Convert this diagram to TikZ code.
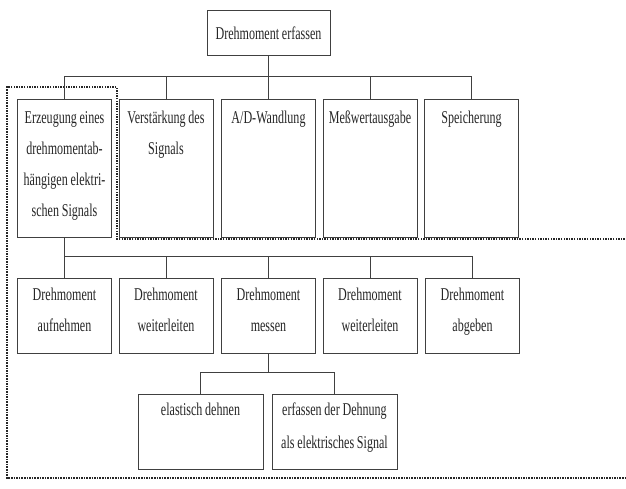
\documentclass[tikz,border=0pt]{standalone}
\usepackage{fontspec}
\setmainfont{Liberation Serif}[FakeStretch=0.67, WordSpace=0.9]
\begin{document}
\begin{tikzpicture}[x=1pt, y=-1pt,
    box/.style={draw=black!75, line width=1pt, text=black!85, inner xsep=0pt, inner ysep=0pt, align=flush center, font=\fontsize{18}{31}\selectfont},
    tallbox/.style={box, anchor=north, text width=94pt, text height=24pt, text depth=114pt},
    smallbox/.style={box, anchor=north, text width=94pt, text height=22pt, text depth=53pt},
    widebox/.style={box, anchor=north, text width=125pt, text height=21pt, text depth=54pt, font=\fontsize{18}{33}\selectfont},
    link/.style={draw=black!75, line width=1pt},
    dotframe/.style={draw=black!85, line width=2.6pt, dash pattern=on 1.5pt off 1.1pt}]
    \useasboundingbox (0,0) rectangle (626,488);

    % main function on top
    \node[box, anchor=north, minimum width=123pt, minimum height=45pt] (top) at (268.5,10) {Drehmoment erfassen};

    % first level: signal chain
    \node[tallbox] (b1) at (64.5,99) {Erzeugung eines\\drehmomentab-\\hängigen elektri-\\schen Signals};
    \node[tallbox] (b2) at (166,99) {Verstärkung des\\Signals};
    \node[tallbox] (b3) at (268.5,99) {A/D-Wandlung};
    \node[tallbox] (b4) at (370,99) {Meßwertausgabe};
    \node[tallbox] (b5) at (471.5,99) {Speicherung};

    % second level: mechanical path of the torque
    \node[smallbox] (c1) at (64.5,278) {Drehmoment\\aufnehmen};
    \node[smallbox] (c2) at (166,278) {Drehmoment\\weiterleiten};
    \node[smallbox] (c3) at (268.5,278) {Drehmoment\\messen};
    \node[smallbox] (c4) at (370,278) {Drehmoment\\weiterleiten};
    \node[smallbox] (c5) at (472.5,278) {Drehmoment\\abgeben};

    % third level below measuring
    \node[widebox] (d1) at (200.5,394) {elastisch dehnen};
    \node[widebox] (d2) at (334.5,394) {erfassen der Dehnung\\als elektrisches Signal};

    % connecting lines of the tree
    \coordinate (bus1) at (268.5,76);
    \coordinate (bus2) at (64.5,256);
    \coordinate (bus3) at (268.5,372);
    \draw[link] (top.south) -- (bus1);
    \draw[link] (b1.north |- bus1) -- (b5.north |- bus1);
    \foreach \n in {b1,b2,b3,b4,b5}
        \draw[link] (\n.north) -- (\n.north |- bus1);
    \draw[link] (b1.south) -- (bus2);
    \draw[link] (c1.north |- bus2) -- (c5.north |- bus2);
    \foreach \n in {c1,c2,c3,c4,c5}
        \draw[link] (\n.north) -- (\n.north |- bus2);
    \draw[link] (c3.south) -- (bus3);
    \draw[link] (d1.north |- bus3) -- (d2.north |- bus3);
    \foreach \n in {d1,d2}
        \draw[link] (\n.north) -- (\n.north |- bus3);

    % dotted frame round the first function
    \draw[dotframe] (630,239) -| (117,87) -| (7,478) -- (630,478);
\end{tikzpicture}
\end{document}
